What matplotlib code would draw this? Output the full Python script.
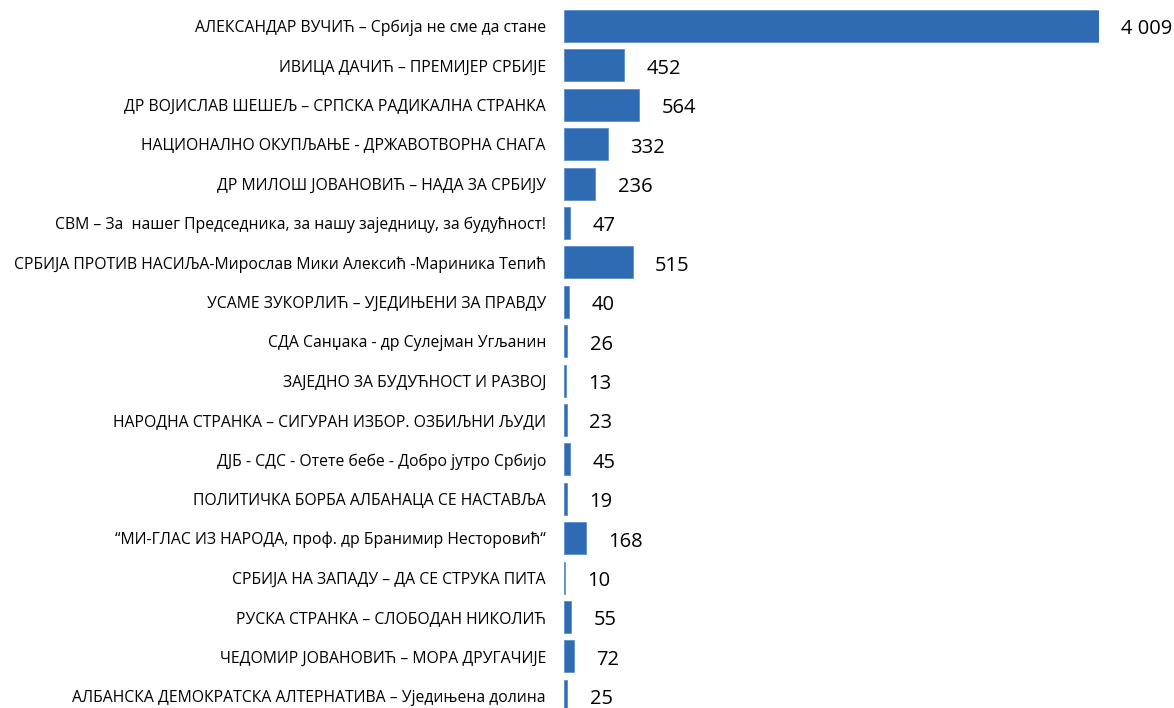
import matplotlib.pyplot as plt

# data
stranke = [
    "АЛЕКСАНДАР ВУЧИЋ – Србија не сме да стане",
    "ИВИЦА ДАЧИЋ – ПРЕМИЈЕР СРБИЈЕ",
    "ДР ВОЈИСЛАВ ШЕШЕЉ – СРПСКА РАДИКАЛНА СТРАНКА",
    "НАЦИОНАЛНО ОКУПЉАЊЕ - ДРЖАВОТВОРНА СНАГА",
    "ДР МИЛОШ ЈОВАНОВИЋ – НАДА ЗА СРБИЈУ",
    "СВМ – За  нашег Председника, за нашу заједницу, за будућност!",
    "СРБИЈА ПРОТИВ НАСИЉА-Мирослав Мики Алексић -Мариника Тепић",
    "УСАМЕ ЗУКОРЛИЋ – УЈЕДИЊЕНИ ЗА ПРАВДУ",
    "СДА Санџака - др Сулејман Угљанин",
    "ЗАЈЕДНО ЗА БУДУЋНОСТ И РАЗВОЈ",
    "НАРОДНА СТРАНКА – СИГУРАН ИЗБОР. ОЗБИЉНИ ЉУДИ",
    "ДЈБ - СДС - Отете бебе - Добро јутро Србијо",
    "ПОЛИТИЧКА БОРБА АЛБАНАЦА СЕ НАСТАВЉА",
    "“МИ-ГЛАС ИЗ НАРОДА, проф. др Бранимир Несторовић“",
    "СРБИЈА НА ЗАПАДУ – ДА СЕ СТРУКА ПИТА",
    "РУСКА СТРАНКА – СЛОБОДАН НИКОЛИЋ",
    "ЧЕДОМИР ЈОВАНОВИЋ – МОРА ДРУГАЧИЈЕ",
    "АЛБАНСКА ДЕМОКРАТСКА АЛТЕРНАТИВА – Уједињена долина",
]
glasovi = [4009, 452, 564, 332, 236, 47, 515, 40, 26, 13, 23, 45, 19, 168, 10, 55, 72, 25]

plt.rcParams['font.family'] = ['Open Sans', 'DejaVu Sans']

fig = plt.figure(figsize=(11.74, 7.08), dpi=100)
ax = fig.add_axes([564 / 1174, -0.0106, (1099 - 564) / 1174, 1.0017])

poz = list(range(len(stranke)))
ax.barh(poz, glasovi, height=0.81, color='#2E6BB3', edgecolor='#5B8FD0', linewidth=0.6)

for p, v in zip(poz, glasovi):
    txt = f"{v:,}".replace(",", " ")
    ax.annotate(txt, (v, p), xytext=(16, -2.5), textcoords='offset points',
                va='center', ha='left', fontsize=14.5, clip_on=False)

ax.set_xlim(0, 4009)
ax.set_ylim(len(stranke) - 0.5, -0.5)
ax.set_yticks(poz)
ax.set_yticklabels(stranke, fontsize=11.3)
ax.tick_params(axis='y', length=0, pad=13)
ax.set_xticks([])
for s in ax.spines.values():
    s.set_visible(False)

fig.savefig('out.png', dpi=100)
